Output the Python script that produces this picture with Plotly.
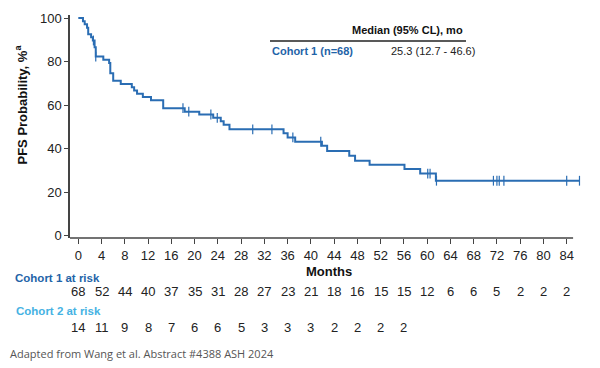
import plotly.graph_objects as go

# ---------------- data ----------------
event_months = [0.8, 1.1, 1.5, 1.7, 2.2, 2.5, 2.8, 3.0, 4.3, 5.3, 5.5, 6.0, 7.3, 9.2, 9.6,
                10.1, 11.1, 12.5, 14.6, 18.3, 20.8, 23.2, 24.5, 25.0, 26.0, 35.3, 36.0,
                37.3, 41.9, 42.8, 46.6, 47.6, 50.1, 56.1, 58.8, 61.5]
event_pfs = [98.5, 97.1, 95.6, 92.6, 91.2, 89.7, 86.6, 82.3, 80.9, 79.4, 74.6, 71.2, 69.7,
             68.2, 66.7, 65.2, 63.7, 62.2, 58.6, 57.0, 55.7, 54.2, 52.6, 51.0, 48.9, 47.1,
             45.2, 43.2, 41.4, 39.0, 36.8, 34.5, 32.6, 30.7, 28.6, 25.3]
last_followup = 86.2

censor_months = [2.6, 3.0, 18.0, 19.0, 22.8, 23.9, 30.0, 33.3, 36.9, 41.7, 60.1, 60.5,
                 61.6, 71.4, 72.0, 72.4, 73.2, 84.0, 86.2]
censor_pfs = [89.7, 82.3, 58.6, 57.0, 55.7, 54.2, 48.9, 48.9, 45.2, 43.2, 28.6, 28.6,
              25.3, 25.3, 25.3, 25.3, 25.3, 25.3, 25.3]

tick_months = list(range(0, 85, 4))
y_ticks = [0, 20, 40, 60, 80, 100]
risk_cohort1 = [68, 52, 44, 40, 37, 35, 31, 28, 27, 23, 21, 18, 16, 15, 15, 12, 6, 6, 5, 2, 2, 2]
risk_cohort2 = [14, 11, 9, 8, 7, 6, 6, 5, 3, 3, 3, 2, 2, 2, 2]

median_header = "Median (95% CL), mo"
cohort1_name = "Cohort 1 (n=68)"
cohort1_median = "25.3 (12.7 - 46.6)"
source_note = "Adapted from Wang et al. Abstract #4388 ASH 2024"

# ---------------- styling / layout ----------------
W, H = 600, 368
ML, MR, MT, MB = 70, 18, 15, 130
PW, PH = W - ML - MR, H - MT - MB
X_RANGE = [-1.43, -1.43 + PW / 5.814]
Y_RANGE = [-1.0, 101.4]
BLUE = "#2a6db3"
LIGHT_BLUE = "#45b2e3"
AX = "#444444"
FONT = "Liberation Sans, Arial, sans-serif"


def px_to_paper_x(px):
    return (px - ML) / PW


def px_to_paper_y(py):
    return (H - MB - py) / PH


fig = go.Figure()

curve_x = [0] + event_months + [last_followup]
curve_y = [100] + event_pfs + [event_pfs[-1]]
fig.add_trace(go.Scatter(x=curve_x, y=curve_y, mode="lines", line=dict(color=BLUE, width=2, shape="hv"),
                         hoverinfo="skip", showlegend=False))
fig.add_trace(go.Scatter(x=censor_months, y=censor_pfs, mode="markers",
                         marker=dict(symbol="line-ns", size=7, color=BLUE,
                                     line=dict(color=BLUE, width=1.2)),
                         hoverinfo="skip", showlegend=False))

annotations = []
# axis titles
annotations.append(dict(text="<b>PFS Probability, %<sup>a</sup></b>", textangle=-90,
                        xref="paper", yref="paper", x=px_to_paper_x(21.5), y=px_to_paper_y(105),
                        xanchor="center", yanchor="middle", showarrow=False,
                        font=dict(size=13, color="#111", family=FONT)))
annotations.append(dict(text="<b>Months</b>", xref="paper", yref="paper",
                        x=px_to_paper_x(329.3), y=px_to_paper_y(271.7),
                        xanchor="center", yanchor="middle", showarrow=False,
                        font=dict(size=13, color="#111", family=FONT)))

# risk table
annotations.append(dict(text="<b>Cohort 1 at risk</b>", xref="paper", yref="paper",
                        x=px_to_paper_x(12.5), y=px_to_paper_y(278.3), xanchor="left", yanchor="middle",
                        showarrow=False, font=dict(size=11.5, color="#1f64a8", family=FONT)))
annotations.append(dict(text="<b>Cohort 2 at risk</b>", xref="paper", yref="paper",
                        x=px_to_paper_x(14), y=px_to_paper_y(310.7), xanchor="left", yanchor="middle",
                        showarrow=False, font=dict(size=11.5, color=LIGHT_BLUE, family=FONT)))
for m, n in zip(tick_months, risk_cohort1):
    annotations.append(dict(text=str(n), xref="x", yref="paper", x=m, y=px_to_paper_y(291.7),
                            xanchor="center", yanchor="middle", showarrow=False,
                            font=dict(size=13, color="#222", family=FONT)))
for m, n in zip(tick_months, risk_cohort2):
    annotations.append(dict(text=str(n), xref="x", yref="paper", x=m, y=px_to_paper_y(327.3),
                            xanchor="center", yanchor="middle", showarrow=False,
                            font=dict(size=13, color="#222", family=FONT)))

# median table
annotations.append(dict(text="<b>" + median_header + "</b>", xref="paper", yref="paper",
                        x=px_to_paper_x(465), y=px_to_paper_y(30), xanchor="right", yanchor="middle",
                        showarrow=False, font=dict(size=11, color="#111", family=FONT)))
annotations.append(dict(text="<b>" + cohort1_name + "</b>", xref="paper", yref="paper",
                        x=px_to_paper_x(270), y=px_to_paper_y(51), xanchor="left", yanchor="middle",
                        showarrow=False, font=dict(size=11, color="#1f64a8", family=FONT)))
annotations.append(dict(text=cohort1_median, xref="paper", yref="paper",
                        x=px_to_paper_x(389), y=px_to_paper_y(51), xanchor="left", yanchor="middle",
                        showarrow=False, font=dict(size=11, color="#222", family=FONT)))

# source note
annotations.append(dict(text=source_note, xref="paper", yref="paper",
                        x=px_to_paper_x(8), y=px_to_paper_y(353.3), xanchor="left", yanchor="middle",
                        showarrow=False, font=dict(size=11, color="#555", family="Open Sans, sans-serif")))

shapes = [
    # median table rule
    dict(type="line", xref="paper", yref="paper", x0=px_to_paper_x(270), x1=px_to_paper_x(466),
         y0=px_to_paper_y(41), y1=px_to_paper_y(41), line=dict(color="#222", width=1.3)),
    # x axis line (ends slightly before the plot edge, as in the reference)
    dict(type="line", xref="x", yref="paper", x0=X_RANGE[0], x1=85.1, y0=0, y1=0,
         line=dict(color=AX, width=1.5)),
]

fig.update_layout(
    width=W, height=H, margin=dict(l=ML, r=MR, t=MT, b=MB),
    paper_bgcolor="white", plot_bgcolor="white",
    font=dict(family=FONT, size=13, color="#222"),
    annotations=annotations, shapes=shapes,
    xaxis=dict(range=X_RANGE, tickvals=tick_months, ticks="outside", ticklen=5, tickwidth=1,
               tickcolor=AX, showline=False, showgrid=False, zeroline=False,
               tickfont=dict(size=13, color="#222")),
    yaxis=dict(range=Y_RANGE, tickvals=y_ticks, ticks="outside", ticklen=4, tickwidth=1,
               tickcolor=AX, showline=True, linecolor=AX, linewidth=1.5, showgrid=False,
               zeroline=False, tickfont=dict(size=13, color="#222")),
)

fig.write_html("out.html", config={"displayModeBar": False},
               post_script="document.body.style.margin='0';document.body.style.overflow='hidden';")
